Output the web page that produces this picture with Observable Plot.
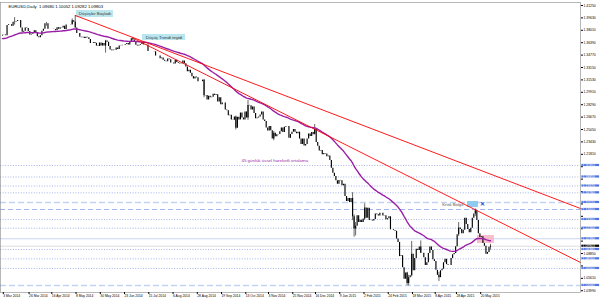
<!DOCTYPE html>
<html><head><meta charset="utf-8">
<script src="https://cdn.jsdelivr.net/npm/d3@7"></script>
<script src="https://cdn.jsdelivr.net/npm/@observablehq/plot@0.6"></script>
<style>html,body{margin:0;padding:0;background:#fff;} svg{display:block}</style>
</head><body><div id="chart"></div>
<script>
// ---------- DATA ----------
const startDate = "2014-03-03";
const holidays = ["2014-12-25", "2015-01-01"];
// Daily closes EURUSD, 3 Mar 2014 .. 29 May 2015
const closes = [
 // Mar 2014
 1.3737,1.3740,1.3730,1.3865,1.3875,1.3875,1.3855,1.3905,1.3910,1.3915,1.3930,1.3930,1.3830,1.3775,1.3790,1.3830,1.3825,1.3785,1.3740,1.3750,1.3770,
 // Apr
 1.3795,1.3765,1.3715,1.3705,1.3730,1.3790,1.3815,1.3885,1.3885,1.3815,1.3815,1.3815,1.3815,1.3810,1.3795,1.3835,1.3815,1.3835,1.3830,1.3855,1.3810,1.3870,
 // May
 1.3870,1.3870,1.3875,1.3925,1.3905,1.3830,1.3760,1.3760,1.3710,1.3705,1.3710,1.3695,1.3710,1.3705,1.3680,1.3630,1.3630,1.3640,1.3630,1.3595,1.3590,1.3635,
 // Jun
 1.3595,1.3630,1.3595,1.3660,1.3645,1.3590,1.3545,1.3535,1.3545,1.3540,1.3570,1.3550,1.3595,1.3600,1.3605,1.3605,1.3615,1.3630,1.3610,1.3645,1.3690,
 // Jul
 1.3675,1.3655,1.3605,1.3595,1.3605,1.3615,1.3640,1.3610,1.3605,1.3610,1.3525,1.3525,1.3525,1.3525,1.3520,1.3465,1.3465,1.3465,1.3430,1.3440,1.3410,1.3395,1.3390,
 // Aug
 1.3425,1.3415,1.3375,1.3375,1.3360,1.3410,1.3380,1.3370,1.3360,1.3365,1.3400,1.3365,1.3320,1.3260,1.3280,1.3240,1.3195,1.3165,1.3190,1.3180,1.3130,
 // Sep
 1.3130,1.3130,1.3150,1.2945,1.2950,1.2890,1.2940,1.2920,1.2925,1.2965,1.2950,1.2960,1.2865,1.2920,1.2830,1.2850,1.2850,1.2760,1.2750,1.2685,1.2690,1.2630,
 // Oct
 1.2625,1.2670,1.2520,1.2665,1.2630,1.2720,1.2655,1.2630,1.2735,1.2655,1.2820,1.2815,1.2760,1.2800,1.2715,1.2645,1.2655,1.2670,1.2695,1.2735,1.2630,1.2610,1.2525,
 // Nov
 1.2485,1.2545,1.2490,1.2380,1.2455,1.2410,1.2435,1.2440,1.2475,1.2525,1.2465,1.2535,1.2545,1.2545,1.2390,1.2440,1.2470,1.2505,1.2470,1.2450,
 // Dec
 1.2470,1.2380,1.2310,1.2380,1.2290,1.2310,1.2380,1.2445,1.2415,1.2465,1.2435,1.2505,1.2335,1.2285,1.2225,1.2230,1.2175,1.2190,1.2185,1.2150,1.2160,1.2100,
 // Jan 2015
 1.2000,1.1935,1.1890,1.1835,1.1790,1.1840,1.1835,1.1770,1.1790,1.1630,1.1565,1.1605,1.1550,1.1605,1.1365,1.1205,1.1240,1.1380,1.1290,1.1320,1.1290,
 // Feb
 1.1335,1.1480,1.1345,1.1475,1.1315,1.1320,1.1310,1.1330,1.1400,1.1390,1.1375,1.1410,1.1410,1.1375,1.1380,1.1325,1.1340,1.1365,1.1195,1.1195,
 // Mar
 1.1185,1.1175,1.1075,1.1030,1.0845,1.0855,1.0700,1.0550,1.0630,1.0495,1.0570,1.0595,1.0875,1.0660,1.0820,1.0940,1.0925,1.0970,1.0890,1.0890,1.0830,1.0730,
 // Apr
 1.0765,1.0885,1.0970,1.0925,1.0805,1.0780,1.0665,1.0600,1.0570,1.0660,1.0680,1.0765,1.0810,1.0740,1.0730,1.0730,1.0820,1.0870,1.0885,1.0975,1.1130,1.1220,
 // May
 1.1200,1.1145,1.1190,1.1345,1.1265,1.1200,1.1155,1.1215,1.1345,1.1400,1.1445,1.1315,1.1145,1.1095,1.1105,1.1015,1.0980,1.0875,1.0900,1.0968,1.0980
];
const firstOpen = 1.3725;
// notable daily extremes (date, high, low)
const wickDates = ["2014-03-13","2014-04-11","2014-05-06","2014-05-08","2014-06-05","2014-07-01","2014-09-04",
  "2014-10-03","2014-10-15","2014-11-07","2014-12-16","2015-01-22","2015-01-23","2015-01-26","2015-02-03",
  "2015-03-13","2015-03-16","2015-03-18","2015-03-26","2015-04-13","2015-04-30","2015-05-15","2015-05-29"];
const wickHighs = [1.3967,1.3905,1.3950,1.3993,1.3670,1.3700,1.3160,1.2680,1.2887,1.2480,1.2570,1.1680,1.1390,
  1.1290,1.1535,1.0640,1.0600,1.1043,1.1050,1.0640,1.1290,1.1467,1.10052];
const wickLows = [1.3870,1.3855,1.3870,1.3830,1.3503,1.3675,1.2920,1.2500,1.2625,1.2358,1.2450,1.1315,1.1098,
  1.1115,1.1320,1.0465,1.0462,1.0580,1.0885,1.0520,1.1110,1.1370,1.09282];
const emaSeed = 1.3690;
const emaPeriod = 45;

const yTicks = [1.41250,1.39630,1.38010,1.36390,1.34770,1.33150,1.31530,1.29910,1.28290,1.26670,1.25050,1.23430,
                1.21810,1.20190,1.18570,1.16950,1.15330,1.13710,1.12090,1.10470,1.08850,1.07230,1.05610,1.03990];
const xTickDates = ["2014-03-03","2014-03-26","2014-04-16","2014-05-08","2014-05-30","2014-06-23","2014-07-15",
  "2014-08-06","2014-08-28","2014-09-19","2014-10-13","2014-11-03","2014-11-25","2014-12-16","2015-01-09",
  "2015-02-02","2015-02-24","2015-03-18","2015-04-08","2015-04-28","2015-05-20"];

const dottedLevels = [1.2035, 1.1885, 1.1767, 1.1678, 1.1330, 1.1216, 1.0938, 1.0816, 1.0690];
const dashedLevels = [1.1460];
const lightDashedLevels = [1.1552, 1.0468];
const solidLevels = [1.1078];
const currentPrice = 1.09803;
const title = "EURUSD,Daily  1.09680 1.10052 1.09282 1.09803";

// trend lines: [date, price]
const trend1 = [["2014-05-08", 1.3995], ["end", 1.1473]];
const trend2 = [["2014-07-01", 1.3700], ["end", 1.0768]];

// ---------- DERIVED ----------
const N = closes.length;
const dates = [];
{
  let t = Date.UTC(2014, 2, 3);
  while (dates.length < N) {
    const d = new Date(t);
    const wd = d.getUTCDay();
    const key = d.toISOString().slice(0, 10);
    if (wd > 0 && wd < 6 && !holidays.includes(key)) dates.push(key);
    t += 86400000;
  }
}
const idx = new Map(dates.map((k, i) => [k, i]));
const candles = closes.map((c, i) => ({i, open: i ? closes[i - 1] : firstOpen, close: c}));
const wicks = wickDates.map((d, k) => ({i: idx.get(d), hi: wickHighs[k], lo: wickLows[k]}));
const alpha = 2 / (emaPeriod + 1);
let e = emaSeed;
const ema = closes.map((c, i) => { e = e + alpha * (c - e); return {i, v: e}; });

const pxPerBar = 1.5155, x0 = 2, plotRight = 580;
const xMin = -x0 / pxPerBar, xMax = (plotRight - x0) / pxPerBar;
const yDomain = [1.0376, 1.4164];
const t1 = trend1.map(([d, p]) => ({i: d === "end" ? xMax : idx.get(d), p}));
const t2 = trend2.map(([d, p]) => ({i: d === "end" ? xMax : idx.get(d), p}));
const fmt = d3.utcFormat("%-d %b %Y");
const xTicks = xTickDates.map(d => idx.get(d));
const allLevels = [...dottedLevels, ...dashedLevels, ...lightDashedLevels, ...solidLevels];
const boxed = [...allLevels, currentPrice];
const boxH = 0.0029;
const hiddenTick = v => boxed.some(l => Math.abs(l - v) < 0.0045);

const font = "Liberation Sans, Arial, sans-serif";
const chart = Plot.plot({
  width: 600, height: 299,
  marginLeft: 0, marginRight: 20, marginTop: 2, marginBottom: 7,
  style: {fontFamily: font, background: "#fff", overflow: "visible"},
  x: {type: "linear", domain: [xMin, xMax]},
  y: {domain: yDomain},
  marks: [
    Plot.ruleY(dottedLevels, {stroke: "#7f93df", strokeWidth: 0.7, strokeDasharray: "1,1.6"}),
    Plot.ruleY(lightDashedLevels, {stroke: "#c4d2f3", strokeWidth: 1.6, strokeDasharray: "6,3"}),
    Plot.ruleY(dashedLevels, {stroke: "#9fb3ec", strokeWidth: 1, strokeDasharray: "5,3"}),
    Plot.ruleY(solidLevels, {stroke: "#c9d4ef", strokeWidth: 1.2}),
    Plot.ruleY([currentPrice], {stroke: "#bbbbbb", strokeWidth: 0.5}),
    // highlight zones
    Plot.rect([0], {x1: 306.8, x2: 314.1, y1: 1.1486, y2: 1.1565, fill: "#8fcbef"}),
    Plot.rect([0], {x1: 313.4, x2: 324.6, y1: 1.1016, y2: 1.1121, fill: "#f6b3c6", fillOpacity: 0.85}),
    // label boxes
    Plot.rect([0], {x1: 48.8, x2: 73.2, y1: 1.3968, y2: 1.4059, fill: "#b9e6ef"}),
    Plot.text([0], {x: 61, y: 1.4013, text: () => "Düşüşler Başladı", fontSize: 4.3, fill: "#333"}),
    Plot.rect([0], {x1: 92.4, x2: 120.8, y1: 1.3667, y2: 1.3746, fill: "#b9e6ef"}),
    Plot.text([0], {x: 106.6, y: 1.3707, text: () => "Düşüş Trendi teyidi", fontSize: 4.3, fill: "#333"}),
    // candles
    Plot.ruleX(wicks, {x: "i", y1: "lo", y2: "hi", stroke: "#000", strokeWidth: 0.6}),
    Plot.ruleX(candles, {x: "i", y1: "open", y2: "close", stroke: "#000", strokeWidth: 1.15}),
    // EMA
    Plot.line(ema, {x: "i", y: "v", stroke: "#9a1fa6", strokeWidth: 1.4}),
    // trend lines
    Plot.line(t1, {x: "i", y: "p", stroke: "#ff0000", strokeWidth: 0.9}),
    Plot.line(t2, {x: "i", y: "p", stroke: "#ff0000", strokeWidth: 0.9}),
    Plot.text([0], {x: 157.7, y: 1.2100, text: () => "45 günlük üssel hareketli ortalama", fontSize: 4.4, fill: "#a12aa8", textAnchor: "start"}),
    Plot.text([0], {x: 304.2, y: 1.1526, text: () => "Kritik Bölge", fontSize: 4.2, fill: "#555", textAnchor: "end"}),
    Plot.text([0], {x: 316.7, y: 1.1526, text: () => "✕", fontSize: 6, fill: "#1d3fd8", fontWeight: "bold"}),
    Plot.text([title], {frameAnchor: "top-left", dx: 8, dy: 3, text: d => d, fontSize: 4.2, fill: "#000"}),
    Plot.frame({stroke: "#888", strokeWidth: 0.6}),
    Plot.axisY({anchor: "right", ticks: yTicks, tickFormat: d => hiddenTick(d) ? "" : d.toFixed(5), tickSize: 2, tickPadding: 1,
      fontSize: 3.4, label: null, stroke: "#000"}),
    Plot.axisX({ticks: xTicks, tickFormat: i => fmt(new Date(dates[i] + "T00:00:00Z")), tickSize: 2, tickPadding: 0.5,
      fontSize: 3.3, textAnchor: "start", dx: 0.8, label: null}),
    // level price boxes in the right margin
    Plot.rect(allLevels, {x1: xMax + 0.9, x2: xMax + 12.6, y1: d => d - boxH / 2, y2: d => d + boxH / 2, fill: "#4f74e0"}),
    Plot.text(allLevels, {x: xMax + 1.4, y: d => d, text: d => d.toFixed(5), fill: "#fff", fontSize: 3.4, textAnchor: "start"}),
    Plot.rect([currentPrice], {x1: xMax + 0.9, x2: xMax + 12.6, y1: d => d - boxH / 2, y2: d => d + boxH / 2, fill: "#000"}),
    Plot.text([currentPrice], {x: xMax + 1.4, y: d => d, text: d => d.toFixed(5), fill: "#fff", fontSize: 3.4, textAnchor: "start"})
  ]
});
document.getElementById("chart").appendChild(chart);
</script>
</body></html>
